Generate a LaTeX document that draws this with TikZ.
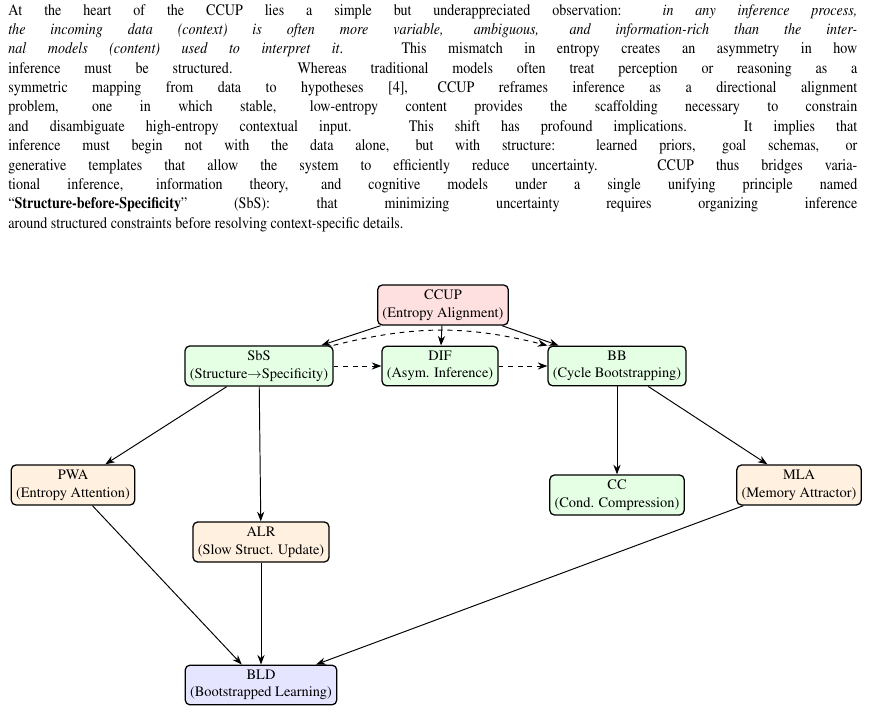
\documentclass[tikz,border=0pt]{standalone}
\usepackage[T1]{fontenc}
\usepackage{mathptmx}
\usetikzlibrary{arrows.meta}
\begin{document}
\begin{tikzpicture}[x=0.625pt,y=-0.625pt,
  box/.style={draw,thick,rounded corners=3pt,align=center,font=\small,inner sep=3pt,minimum height=24pt},
  red/.style={fill=red!12}, grn/.style={fill=green!10}, org/.style={fill=orange!12}, blu/.style={fill=blue!10},
  arr/.style={-{Stealth[length=6pt]},semithick},
  darr/.style={arr,dashed}]
\useasboundingbox (0,0) rectangle (870,714);
\node[anchor=north west,inner sep=0pt] (txt) at (8,4) {\scalebox{0.88}[1]{\parbox{603pt}{\fontsize{10pt}{12.1pt}\selectfont At the heart of the CCUP lies a simple but underappreciated observation: \emph{in any inference process,\linebreak the incoming data (context) is often more variable, ambiguous, and information-rich than the inter-\linebreak nal models (content) used to interpret it}. This mismatch in entropy creates an asymmetry in how\linebreak inference must be structured. Whereas traditional models often treat perception or reasoning as a\linebreak symmetric mapping from data to hypotheses [4], CCUP reframes inference as a directional alignment\linebreak problem, one in which stable, low-entropy content provides the scaffolding necessary to constrain\linebreak and disambiguate high-entropy contextual input. This shift has profound implications. It implies that\linebreak inference must begin not with the data alone, but with structure: learned priors, goal schemas, or\linebreak generative templates that allow the system to efficiently reduce uncertainty. CCUP thus bridges varia-\linebreak tional inference, information theory, and cognitive models under a single unifying principle named\linebreak ``\textbf{Structure-before-Specificity}'' (SbS): that minimizing uncertainty requires organizing inference\linebreak around structured constraints before resolving context-specific details.}}};
\node[box,red] (ccup) at (443,305) {CCUP\\(Entropy Alignment)};
\node[box,grn] (sbs) at (259,366) {SbS\\(Structure$\rightarrow$Specificity)};
\node[box,grn] (dif) at (440,366) {DIF\\(Asym. Inference)};
\node[box,grn] (bb) at (617,366) {BB\\(Cycle Bootstrapping)};
\node[box,org] (pwa) at (73,485) {PWA\\(Entropy Attention)};
\node[box,grn] (cc) at (617,495) {CC\\(Cond. Compression)};
\node[box,org] (mla) at (799,485) {MLA\\(Memory Attractor)};
\node[box,org] (alr) at (261,542) {ALR\\(Slow Struct. Update)};
\node[box,blu] (bld) at (261,685) {BLD\\(Bootstrapped Learning)};
\draw[arr] (ccup) -- (sbs);
\draw[arr] (ccup) -- (dif);
\draw[arr] (ccup) -- (bb);
\draw[darr] (sbs.north east) to[bend left=14] (bb.north west);
\draw[darr] (sbs) -- (dif);
\draw[darr] (dif) -- (bb);
\draw[arr] (sbs) -- (pwa);
\draw[arr] (sbs) -- (alr);
\draw[arr] (bb) -- (cc);
\draw[arr] (bb) -- (mla);
\draw[arr] (pwa) -- (bld);
\draw[arr] (alr) -- (bld);
\draw[arr] (mla) -- (bld);
\end{tikzpicture}
\end{document}
